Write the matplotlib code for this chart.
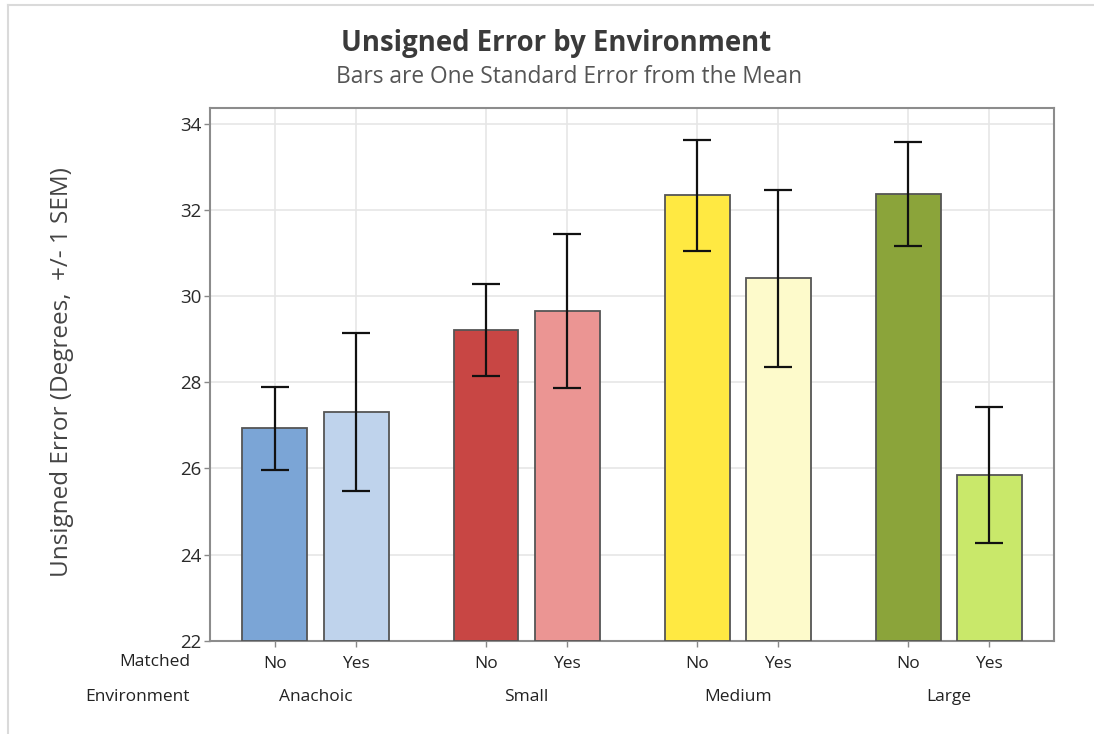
import matplotlib
matplotlib.use("Agg")
import matplotlib.pyplot as plt
from matplotlib.lines import Line2D
import matplotlib.transforms as mtransforms

plt.rcParams['font.family'] = ['Open Sans', 'DejaVu Sans']

environments = ["Anachoic", "Small", "Medium", "Large"]
matched = ["No", "Yes"]
means = [26.93, 27.31, 29.21, 29.67, 32.35, 30.42, 32.37, 25.85]
sems = [0.97, 1.84, 1.07, 1.79, 1.29, 2.06, 1.21, 1.58]
colors = ["#7BA5D6", "#BFD3EC", "#C84644", "#EB9593",
          "#FFE942", "#FDFACB", "#8BA43A", "#C9E86A"]
yticks = [22, 24, 26, 28, 30, 32, 34]

group_step = 2.6
positions = []
for g in range(len(environments)):
    for m in range(len(matched)):
        positions.append(g * group_step + m)

W, H = 1094, 734
fig = plt.figure(figsize=(W / 100, H / 100), dpi=100)
ax = fig.add_axes([210 / W, 1 - 640.6 / H, (1054.3 - 210) / W, (640.6 - 108.3) / H])

ax.bar(positions, [m - 22 for m in means], bottom=22, width=0.8, color=colors,
       edgecolor="#555555", linewidth=1.3, zorder=3)
ax.errorbar(positions, means, yerr=sems, fmt="none", ecolor="#111111",
            elinewidth=1.6, capsize=10.2, capthick=1.6, zorder=4)

ax.set_xlim(-0.8, 9.6)
ax.set_ylim(22, 34.37)
ax.set_yticks(yticks)
ax.set_yticklabels([str(t) for t in yticks], fontsize=13.5, color="#2A2A2A")
ax.set_xticks(positions)
ax.set_xticklabels([matched[i % 2] for i in range(len(positions))],
                   fontsize=12.5, color="#222222")
ax.tick_params(axis="both", direction="out", length=4, color="#888888", width=1)
ax.tick_params(axis="x", pad=7)
ax.tick_params(axis="y", pad=2)

ax.grid(True, color="#E6E6E6", linewidth=1.2, zorder=0)
ax.set_axisbelow(True)
for s in ax.spines.values():
    s.set_color("#8C8C8C")
    s.set_linewidth(1.5)

ax.set_ylabel("Unsigned Error (Degrees,  +/- 1 SEM)", fontsize=17.5, color="#444444")
ax.yaxis.set_label_coords((62 - 210) / (1054.3 - 210), (640.6 - 372) / (640.6 - 108.3))
ax.yaxis.label.set_va("center")

trans = mtransforms.blended_transform_factory(ax.transData, fig.transFigure)
for g, env in enumerate(environments):
    xc = g * group_step + 0.5
    fig.text(xc, 1 - 697 / H, env, transform=trans, ha="center", va="center",
             fontsize=12.5, color="#222222")
fig.text(190 / W, 1 - 662 / H, "Matched", ha="right", va="center", fontsize=12.5, color="#222222")
fig.text(190 / W, 1 - 697 / H, "Environment", ha="right", va="center", fontsize=12.5, color="#222222")

fig.text(556 / W, 1 - 44 / H, "Unsigned Error by Environment", ha="center", va="center",
         fontsize=19.8, fontweight="bold", color="#3A3A3A")
fig.text(569 / W, 1 - 77 / H, "Bars are One Standard Error from the Mean", ha="center", va="center",
         fontsize=16.4, color="#555555")

fig.add_artist(Line2D([8 / W, 1], [1 - 5 / H, 1 - 5 / H], transform=fig.transFigure,
                      color="#DADADA", linewidth=1.5))
fig.add_artist(Line2D([8 / W, 8 / W], [0, 1 - 5 / H], transform=fig.transFigure,
                      color="#DADADA", linewidth=1.5))

fig.savefig("out.png", dpi=100, facecolor="white")
